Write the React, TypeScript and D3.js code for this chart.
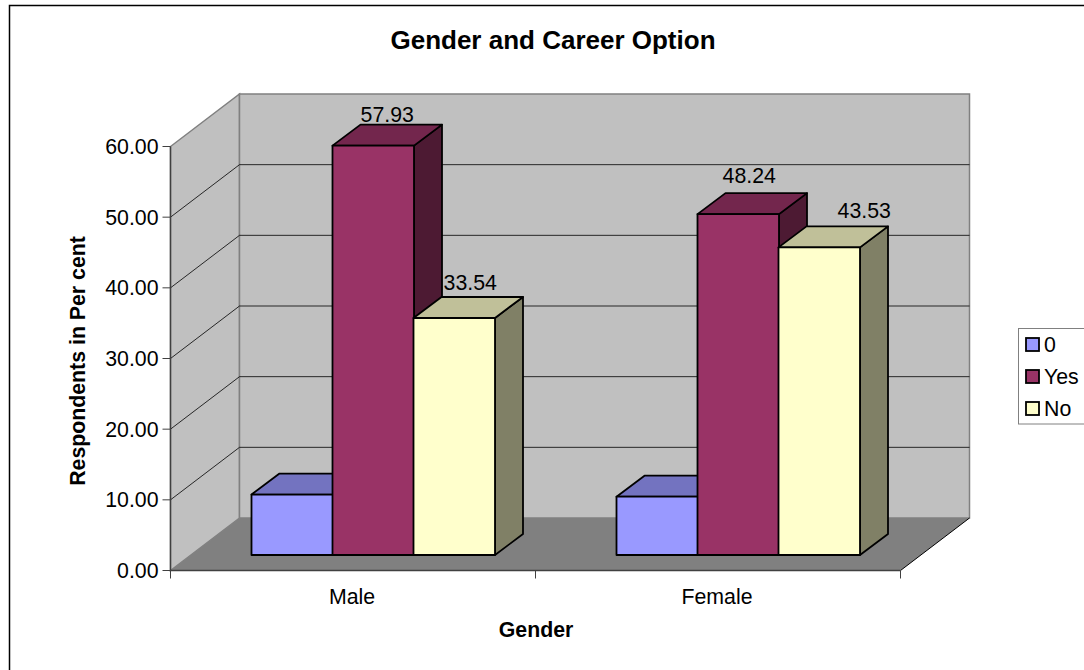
import React from "react";
import * as d3 from "d3";

const categories = ["Male", "Female"];
const seriesNames = ["0", "Yes", "No"];
const zeroValues = [8.55, 8.25];
const yesValues = [57.93, 48.24];
const noValues = [33.54, 43.53];
const labelFlags = [false, true, true];
const yTicks = [0, 10, 20, 30, 40, 50, 60];
const fronts = ["#9999FF", "#993366", "#FFFFCC"];
const tops = ["#7373C0", "#73264D", "#C0C099"];
const sides = ["#4D4D80", "#4D1A33", "#808066"];
const seriesValues = [zeroValues, yesValues, noValues];
// label nudges from the bar's top-centre [category][series]
const labelDx = [[0, 0, 2], [0, -3, 31]];
const labelDy = [[0, 2.5, 6.5], [0, 10, 8.5]];

const FONT = "'Liberation Sans', Arial, sans-serif";
const FS = 21.3;
const y = d3.scaleLinear().domain([0, 60]).range([570.5, 146.5]);
const barY = d3.scaleLinear().domain([0, 60]).range([555, 131]);
const cat = d3.scaleBand().domain(categories).range([170.5, 900.5]);
const DX = 69, DY = -52.5;
const BDX = 28, BDY = -21;
const BAR_W = 81.5;
const groupOffset = 81;

const pts = (p: number[][]) => p.map((q) => q.join(",")).join(" ");

export default function App() {
  const x0 = cat.range()[0];
  const x1 = cat.range()[1];
  const y0 = y(0);
  const yTop = y(60);
  return (
    <svg width={1084} height={670} style={{ position: "absolute", left: 0, top: 0, background: "#fff" }} fontFamily={FONT}>
      <rect x={9.5} y={5.5} width={1200} height={800} fill="#fff" stroke="#000" strokeWidth={1.5} />
      <text x={553} y={49} textAnchor="middle" fontSize={26} fontWeight="bold" fill="#000">Gender and Career Option</text>

      {/* walls and floor */}
      <polygon points={pts([[x0, y0], [x0 + DX, y0 + DY], [x0 + DX, yTop + DY], [x0, yTop]])} fill="#C0C0C0" stroke="#808080" strokeWidth={1.5} />
      <rect x={x0 + DX} y={yTop + DY} width={x1 - x0} height={y0 - yTop} fill="#C0C0C0" stroke="#808080" strokeWidth={1.5} />
      <polygon points={pts([[x0, y0], [x0 + DX, y0 + DY], [x1 + DX, y0 + DY], [x1, y0]])} fill="#808080" />
      <path d={`M${x1},${y0}L${x1 + DX},${y0 + DY}`} stroke="#000" strokeWidth={1} fill="none" />

      {/* gridlines */}
      {yTicks.filter((t) => t > 0 && t < 60).map((t) => (
        <path key={t} d={`M${x0},${y(t)}L${x0 + DX},${y(t) + DY}L${x1 + DX},${y(t) + DY}`} fill="none" stroke="#000" strokeWidth={1} opacity={0.8} />
      ))}

      {/* axes */}
      <path d={`M${x0},${yTop}V${y0}H${x1}`} fill="none" stroke="#404040" strokeWidth={1.4} />
      {yTicks.map((t) => (
        <g key={t}>
          <line x1={x0 - 8} x2={x0} y1={y(t)} y2={y(t)} stroke="#404040" strokeWidth={1} />
          <text x={x0 - 12} y={y(t) + 7.5} textAnchor="end" fontSize={FS} fill="#000">{t.toFixed(2)}</text>
        </g>
      ))}
      {[x0, x0 + cat.bandwidth(), x1].map((v) => (
        <line key={v} x1={v} x2={v} y1={y0} y2={y0 + 8} stroke="#404040" strokeWidth={1} />
      ))}

      {/* bars */}
      {categories.map((c, ci) => {
        const start = (cat(c) as number) + 81;
        return (
          <g key={c}>
            {seriesValues.map((vals, si) => {
              const l = start + si * groupOffset;
              const r = l + BAR_W;
              const t = barY(vals[ci]);
              const b = barY(0);
              return (
                <g key={si} stroke="#000" strokeWidth={1.8} strokeLinejoin="round">
                  <polygon points={pts([[r, b], [r + BDX, b + BDY], [r + BDX, t + BDY], [r, t]])} fill={sides[si]} />
                  <polygon points={pts([[l, t], [l + BDX, t + BDY], [r + BDX, t + BDY], [r, t]])} fill={tops[si]} />
                  <rect x={l} y={t} width={BAR_W} height={b - t} fill={fronts[si]} />
                </g>
              );
            })}
            {seriesValues.map((vals, si) =>
              labelFlags[si] ? (
                <text key={si} x={start + si * groupOffset + BAR_W / 2 + BDX / 2 + labelDx[ci][si]} y={barY(vals[ci]) + BDY - labelDy[ci][si]} textAnchor="middle" fontSize={FS} fill="#000">
                  {vals[ci].toFixed(2)}
                </text>
              ) : null
            )}
          </g>
        );
      })}

      {categories.map((c) => (
        <text key={c} x={(cat(c) as number) + cat.bandwidth() / 2 - 1} y={603.5} textAnchor="middle" fontSize={FS} fill="#000">{c}</text>
      ))}
      <text x={536} y={636.5} textAnchor="middle" fontSize={FS} fontWeight="bold" fill="#000">Gender</text>
      <text transform="translate(84.5,361) rotate(-90)" textAnchor="middle" fontSize={FS} fontWeight="bold" fill="#000">Respondents in Per cent</text>

      {/* legend */}
      <rect x={1018.5} y={328.5} width={80} height={95.5} fill="#fff" stroke="#808080" strokeWidth={1} />
      {seriesNames.map((s, i) => (
        <g key={s}>
          <rect x={1026} y={338 + i * 32} width={13} height={13} fill={fronts[i]} stroke="#000" strokeWidth={1.8} />
          <text x={1044} y={351.5 + i * 32} fontSize={FS} fill="#000">{s}</text>
        </g>
      ))}
    </svg>
  );
}
